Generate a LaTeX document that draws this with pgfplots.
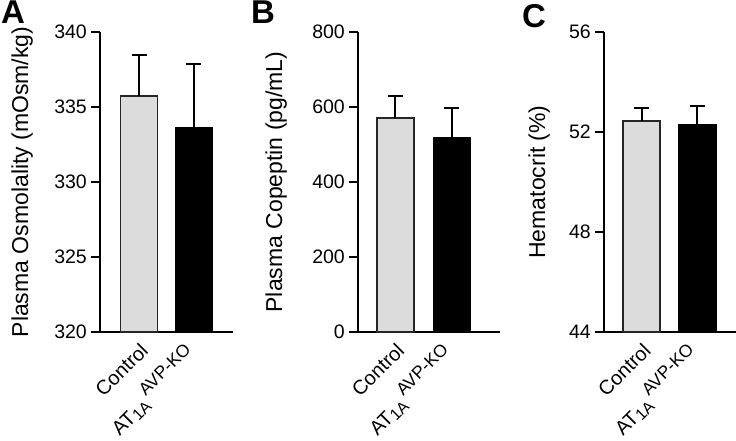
\documentclass[border=0pt]{standalone}
\usepackage{pgfplots}
\pgfplotsset{compat=1.18}
\usepackage{fontspec}
\setmainfont{Liberation Sans}
\definecolor{ctrl}{HTML}{DCDCDC}

\newcommand{\ko}{AT\raisebox{-0.25ex}{\fontsize{16}{16}\selectfont 1A}\hspace{3pt}\raisebox{0.95ex}{\fontsize{17.5}{17.5}\selectfont AVP-KO}}

\pgfplotsset{
  panel/.style={
    scale only axis, height=300pt,
    axis x line=bottom, axis y line=left,
    axis line style={-, line width=2.2pt},
    ytick style={line width=2.2pt, black},
    major tick length=9pt, tick align=outside,
    xtick={0,0.8},
    xticklabels={Control, \ko},
    x tick style={draw=none},
    x tick label style={rotate=45, anchor=north east, font=\fontsize{20}{20}\selectfont, inner sep=0.5pt},
    y tick label style={font=\fontsize{19.5}{19.5}\selectfont, inner sep=4pt},
    /pgf/number format/assume math mode=true,
    ylabel style={font=\fontsize{23}{23}\selectfont, inner sep=0pt, anchor=south},
    ybar, bar width=37pt, clip=false,
    error bars/y dir=plus, error bars/y explicit,
    error bars/error bar style={line width=2pt, black},
    error bars/error mark options={rotate=90, mark size=7.5pt, line width=2pt, black},
  },
  ctrlbar/.style={fill=ctrl, draw=black!85, line width=1.8pt, bar shift=0pt},
  kobar/.style={fill=black, draw=black, line width=1.8pt, bar shift=0pt},
}

\begin{document}
\begin{tikzpicture}
\useasboundingbox (0,0) rectangle (736pt,440pt);

% A: osmolality
\begin{axis}[panel, at={(100pt,108pt)}, width=133pt,
  xmin=-0.71, xmax=1.71, ymin=320, ymax=340, ytick={320,325,...,340},
  ylabel={Plasma Osmolality (mOsm/kg)},
  ylabel style={at={([xshift=-67pt]axis description cs:0,0.5)}}]
  \addplot[ctrlbar] coordinates {(0,335.75) +- (0,2.75)};
  \addplot[kobar] coordinates {(1,333.6) +- (0,4.3)};
\end{axis}

% B: copeptin
\begin{axis}[panel, at={(358pt,108pt)}, width=142pt,
  xmin=-0.66, xmax=1.85, ymin=0, ymax=800, ytick={0,200,...,800},
  ylabel={Plasma Copeptin (pg/mL)},
  ylabel style={at={([xshift=-71pt]axis description cs:0,0.5)}}]
  \addplot[ctrlbar] coordinates {(0,570) +- (0,58.5)};
  \addplot[kobar] coordinates {(1,516.5) +- (0,80)};
\end{axis}

% C: hematocrit
\begin{axis}[panel, at={(604pt,108pt)}, width=132pt,
  xmin=-0.68, xmax=1.70, ymin=44, ymax=56, ytick={44,48,52,56},
  ylabel={Hematocrit (\%)},
  ylabel style={at={([xshift=-54pt]axis description cs:0,0.5)}}]
  \addplot[ctrlbar] coordinates {(0,52.44) +- (0,0.53)};
  \addplot[kobar] coordinates {(1,52.27) +- (0,0.78)};
\end{axis}

\begin{scope}[every node/.style={anchor=north west, inner sep=0pt, font=\bfseries\fontsize{33}{33}\selectfont}]
\node at (1pt,439pt) {A};
\node at (251pt,439pt) {B};
\node at (522pt,436pt) {C};
\end{scope}
\end{tikzpicture}
\end{document}
